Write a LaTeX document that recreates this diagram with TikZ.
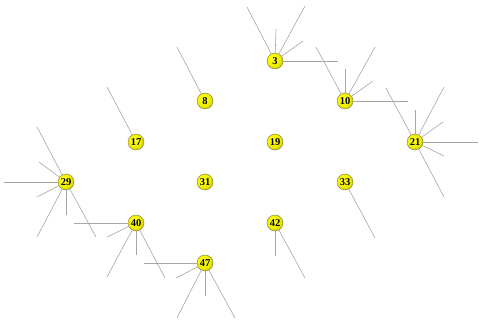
\documentclass[tikz,border=0pt]{standalone}
\usepackage{fontspec}
\setmainfont{Liberation Serif}

\pgfdeclareradialshading{yball}{\pgfqpoint{-8bp}{8bp}}{%
  color(0bp)=(yellow!35!white); color(8bp)=(yellow);
  color(22bp)=(yellow!92!black); color(34bp)=(yellow!72!black);
  color(46bp)=(yellow!48!black); color(70bp)=(yellow!35!black)}

\tikzset{
  ball/.style={circle, shading=yball, draw=yellow!30!black, line width=0.3pt,
    minimum size=16pt, inner sep=0pt,
    font=\fontsize{10.5}{12}\selectfont\bfseries},
  spoke/.style={draw=gray!70, line width=0.6pt}
}

\begin{document}
\begin{tikzpicture}[x=1pt, y=-1pt]
\useasboundingbox (0,0) rectangle (479,320);

\node[ball] (n3) at (275,61) {3};
\node[ball] (n8) at (205,101) {8};
\node[ball] (n10) at (345,101) {10};
\node[ball] (n17) at (136,142) {17};
\node[ball] (n19) at (275,142) {19};
\node[ball] (n21) at (415,142) {21};
\node[ball] (n29) at (66,182) {29};
\node[ball] (n31) at (205,182) {31};
\node[ball] (n33) at (345,182) {33};
\node[ball] (n40) at (136,223) {40};
\node[ball] (n42) at (275,223) {42};
\node[ball] (n47) at (205,263) {47};


% loose ends: node / x / y
\foreach \nm/\x/\y [count=\k] in {
  3/247/7, 3/276/29, 3/305/6, 3/303/41, 3/338/61,
  8/177/47,
  10/316/47, 10/345/69, 10/375/47, 10/373/81, 10/408/101,
  17/107/87,
  21/386/88, 21/415/110, 21/444/87, 21/443/122, 21/478/142, 21/444/156, 21/444/197,
  29/37/127, 29/39/162, 29/4/182, 29/37/197, 29/37/237, 29/66/215, 29/96/237,
  33/375/238,
  40/74/223, 40/107/237, 40/107/277, 40/136/255, 40/165/278,
  42/275/256, 42/305/278,
  47/144/263, 47/176/278, 47/177/318, 47/205/296, 47/235/318}
{
  \coordinate (e\k) at (\x,\y);
  \draw[spoke] (n\nm) -- (e\k);
}
\end{tikzpicture}
\end{document}
